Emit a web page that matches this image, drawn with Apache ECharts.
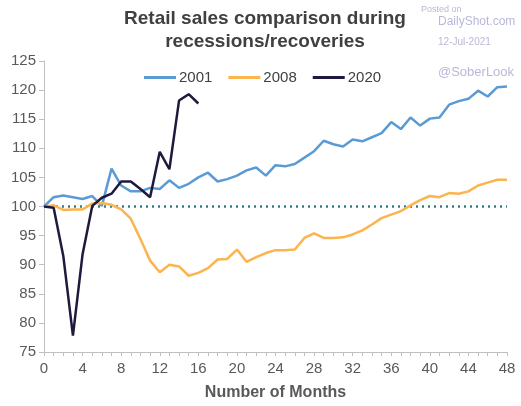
<!DOCTYPE html>
<html>
<head>
<meta charset="utf-8">
<script src="https://cdn.jsdelivr.net/npm/echarts@6/dist/echarts.min.js"></script>
<style>html,body{margin:0;padding:0;background:#fff}#c{width:521px;height:406px}</style>
</head>
<body>
<div id="c"></div>
<script>
const months = Array.from({length: 49}, (_, i) => String(i));
const s2001 = [100, 101.6, 101.9, 101.6, 101.3, 101.8, 100.1, 106.5, 103.6, 102.6, 102.6, 103.2, 103.0, 104.5, 103.2, 103.9, 105.0, 105.8, 104.3, 104.7, 105.3, 106.2, 106.7, 105.3, 107.1, 106.9, 107.3, 108.4, 109.5, 111.3, 110.7, 110.3, 111.5, 111.2, 111.9, 112.6, 114.5, 113.3, 115.3, 113.9, 115.1, 115.3, 117.5, 118.1, 118.5, 119.9, 118.9, 120.5, 120.6];
const s2008 = [100, 100.2, 99.4, 99.5, 99.5, 100.5, 100.6, 100.3, 99.5, 97.9, 94.4, 90.7, 88.7, 90.0, 89.7, 88.1, 88.6, 89.4, 90.9, 91.0, 92.6, 90.5, 91.3, 92.0, 92.5, 92.5, 92.6, 94.6, 95.4, 94.6, 94.6, 94.7, 95.2, 95.9, 96.9, 98.0, 98.6, 99.2, 100.2, 101.1, 101.8, 101.6, 102.3, 102.2, 102.6, 103.6, 104.1, 104.6, 104.6];
const s2020 = [100, 99.8, 91.5, 77.8, 91.8, 100.1, 101.5, 102.2, 104.3, 104.3, 103.0, 101.6, 109.4, 106.4, 118.2, 119.3, 117.7];
const baseline = months.map(() => 100);
const seriesNames = ['2001', '2008', '2020'];
const yTicks = [75, 80, 85, 90, 95, 100, 105, 110, 115, 120, 125];

const chart = echarts.init(document.getElementById('c'));
const font = 'Liberation Sans, Arial, sans-serif';
chart.setOption({
  animation: false,
  textStyle: {fontFamily: font},
  title: [
    {text: 'Retail sales comparison during\nrecessions/recoveries', left: 260, top: 2, textAlign: 'center',
     textStyle: {fontSize: 19, fontWeight: 'bold', color: '#404040', lineHeight: 23, fontFamily: font}},
    {text: 'Posted on', left: 416, top: 0, textStyle: {fontSize: 9, fontWeight: 'normal', color: '#b8b8d8', fontFamily: font}},
    {text: 'DailyShot.com', left: 433, top: 11, textStyle: {fontSize: 12, fontWeight: 'normal', color: '#b8b8d8', fontFamily: font}},
    {text: '12-Jul-2021', left: 433, top: 32, textStyle: {fontSize: 10, fontWeight: 'normal', color: '#b8b8d8', fontFamily: font}},
    {text: '@SoberLook', left: 433, top: 61, textStyle: {fontSize: 13, fontWeight: 'normal', color: '#b8b8d8', fontFamily: font}}
  ],
  legend: {
    data: seriesNames, left: 139, top: 65, itemWidth: 32, itemHeight: 3, itemGap: 16,
    icon: 'rect',
    textStyle: {fontSize: 15, color: '#404040', fontFamily: font, padding: [0, 0, 0, -2]}
  },
  grid: {left: 44, right: 14, top: 61, bottom: 52},
  xAxis: {
    type: 'category', data: months, boundaryGap: false,
    name: 'Number of Months', nameLocation: 'middle', nameGap: 33,
    nameTextStyle: {fontSize: 16, fontWeight: 'bold', color: '#595959', fontFamily: font},
    axisLine: {lineStyle: {color: '#bfbfbf'}},
    axisTick: {interval: 0, length: 4, lineStyle: {color: '#bfbfbf'}},
    axisLabel: {interval: 3, fontSize: 15, color: '#595959', margin: 9},
    splitLine: {show: false}
  },
  yAxis: {
    type: 'value', min: 75, max: 125, interval: 5,
    axisLine: {show: true, lineStyle: {color: '#bfbfbf'}},
    axisTick: {show: true, length: 5, lineStyle: {color: '#bfbfbf'}},
    axisLabel: {fontSize: 15, color: '#595959', margin: 8},
    splitLine: {show: false}
  },
  series: [
    {name: 'base', type: 'line', data: baseline, symbol: 'none', silent: true,
     lineStyle: {color: '#2e8088', width: 2.5, type: [2, 4]}, z: 1},
    {name: '2001', type: 'line', data: s2001, symbol: 'none', lineStyle: {color: '#5b9bd5', width: 2.5}, itemStyle: {color: '#5b9bd5'}, z: 2},
    {name: '2008', type: 'line', data: s2008, symbol: 'none', lineStyle: {color: '#fbb44e', width: 2.5}, itemStyle: {color: '#fbb44e'}, z: 3},
    {name: '2020', type: 'line', data: s2020, symbol: 'none', lineStyle: {color: '#1d1a3d', width: 2.5}, itemStyle: {color: '#1d1a3d'}, z: 4}
  ]
});
</script>
</body>
</html>
